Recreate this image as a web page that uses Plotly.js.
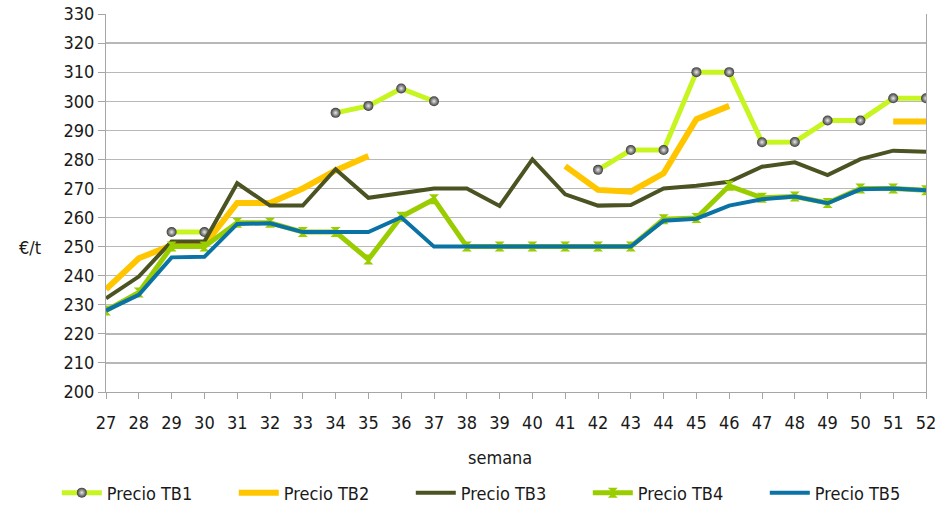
<!DOCTYPE html>
<html>
<head>
<meta charset="utf-8">
<script src="https://cdn.plot.ly/plotly-3.0.1.min.js"></script>
<style>html,body{margin:0;padding:0;background:#fff}#chart{width:950px;height:507px}</style>
</head>
<body>
<div id="chart"></div>
<script>
var weeks = [27,28,29,30,31,32,33,34,35,36,37,38,39,40,41,42,43,44,45,46,47,48,49,50,51,52];
var tb1 = [null,null,255,255,null,null,null,296,298.4,304.4,300,null,null,null,null,276.4,283.2,283.2,310,310,285.9,286,293.4,293.4,301,301];
var tb2 = [235.3,246,250.5,250.6,265,265,270,276.2,281.2,null,null,null,null,null,277.7,269.5,268.9,275.2,293.8,298.4,null,null,null,null,293,293];
var tb3 = [232.2,239.7,251.8,251.8,271.8,264.1,264.1,276.6,266.8,268.3,270,270,264,280,268,264.1,264.3,270,270.9,272.3,277.5,279,274.6,280.1,283,282.6];
var tb4 = [228,234.2,250,250,258.2,258.2,255,255,245.6,260.3,266.3,250,250,250,250,250,250,259.4,259.8,270.9,266.8,267.2,265,270,270,269.4];
var tb5 = [228,233.4,246.3,246.5,257.8,258,255,255,255,260.1,250,250,250,250,250,250,250,258.9,259.6,264.1,266.3,267.2,264.9,269.7,270,269.4];
var yTicks = [200,210,220,230,240,250,260,270,280,290,300,310,320,330];
var names = ['Precio TB1','Precio TB2','Precio TB3','Precio TB4','Precio TB5'];

var FONT = '"DejaVu Sans Condensed", "DejaVu Sans", sans-serif';

var traces = [
  {x: weeks, y: tb1, name: names[0], mode: 'lines+markers', connectgaps: false,
   line: {color: '#c6f520', width: 5},
   marker: {symbol: 'circle', size: 10, color: '#3a3a3a', gradient: {type: 'radial', color: '#e8e8e8'}, line: {width: 0}}},
  {x: weeks, y: tb2, name: names[1], mode: 'lines', connectgaps: false,
   line: {color: '#ffc600', width: 6}},
  {x: weeks, y: tb3, name: names[2], mode: 'lines', connectgaps: false,
   line: {color: '#4a5321', width: 4}},
  {x: weeks, y: tb4, name: names[3], mode: 'lines+markers', connectgaps: false,
   line: {color: '#9acd00', width: 5},
   marker: {symbol: 'hourglass', size: 10, color: '#9acd00', line: {width: 0}}},
  {x: weeks, y: tb5, name: names[4], mode: 'lines', connectgaps: false,
   line: {color: '#0a72a4', width: 4}}
];

var layout = {
  width: 950, height: 507,
  margin: {l: 106, r: 24, t: 14, b: 115, autoexpand: false},
  paper_bgcolor: '#fff', plot_bgcolor: '#fff',
  font: {family: FONT, size: 18, color: '#1a1a1a'},
  showlegend: true,
  legend: {orientation: 'h', x: -0.06, xanchor: 'left', y: -0.267, yanchor: 'middle',
           entrywidth: 122, entrywidthmode: 'pixels', itemwidth: 40,
           font: {family: FONT, size: 18, color: '#1a1a1a'}},
  xaxis: {type: 'linear', range: [27, 52], tickmode: 'array', tickvals: weeks,
          ticktext: weeks.map(String), showgrid: false, zeroline: false,
          showline: true, linecolor: '#a6a6a6', linewidth: 1,
          ticks: 'outside', ticklen: 6, tickcolor: '#a6a6a6', ticklabelstandoff: 8},
  yaxis: {range: [200, 330], tickmode: 'array', tickvals: yTicks, ticktext: yTicks.map(String),
          showgrid: true, gridcolor: '#b8b8b8', gridwidth: 1.3, zeroline: false,
          showline: true, mirror: true, linecolor: '#a6a6a6', linewidth: 1,
          ticks: 'outside', ticklen: 7, tickcolor: '#a6a6a6'},
  annotations: [
    {text: '€/t', xref: 'paper', yref: 'paper', x: -0.093, y: 0.381, showarrow: false,
     xanchor: 'center', yanchor: 'middle', font: {family: FONT, size: 18, color: '#1a1a1a'}},
    {text: 'semana', xref: 'paper', yref: 'paper', x: 0.48, y: -0.172, showarrow: false,
     xanchor: 'center', yanchor: 'middle', font: {family: FONT, size: 18, color: '#1a1a1a'}}
  ]
};

Plotly.newPlot('chart', traces, layout, {staticPlot: true, displayModeBar: false});
</script>
</body>
</html>
